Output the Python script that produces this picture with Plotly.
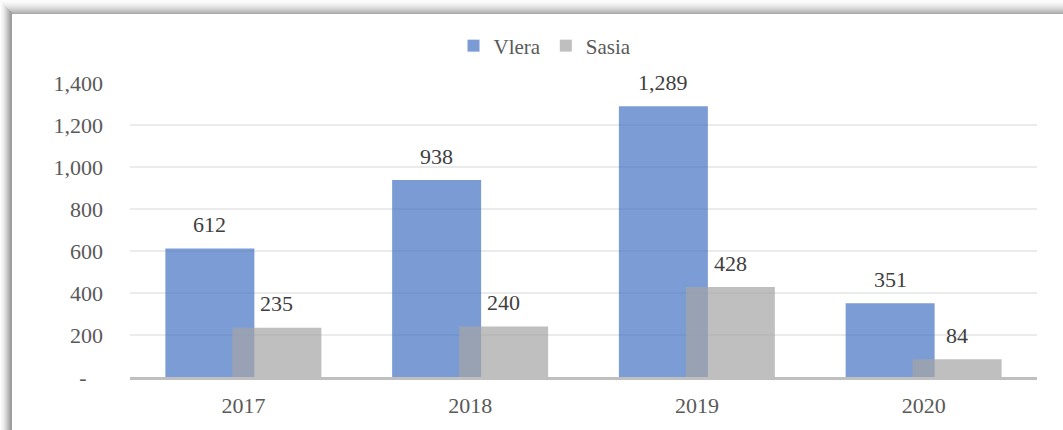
import plotly.graph_objects as go

years = ["2017", "2018", "2019", "2020"]
vlera = [612, 938, 1289, 351]
sasia = [235, 240, 428, 84]
series_names = ["Vlera", "Sasia"]
y_tick_vals = [0, 200, 400, 600, 800, 1000, 1200, 1400]
y_tick_text = ["-\u00a0\u00a0\u00a0", "200", "400", "600", "800", "1,000", "1,200", "1,400"]

W, H = 1063, 430
L, R, T, B = 130, 1037, 83, 377
FONT = "Liberation Serif"

def px_x(px):
    return (px - L) / (R - L)

def px_y(py):
    return (B - py) / (B - T)

bw = 0.3925
off = 0.1477

fig = go.Figure()
fig.add_trace(go.Bar(
    x=years, y=vlera, name=series_names[0],
    marker=dict(color="#4472C4", line=dict(width=0)), opacity=0.7,
    width=bw, offset=-off - bw / 2,
))
fig.add_trace(go.Bar(
    x=years, y=sasia, name=series_names[1],
    marker=dict(color="#A5A5A5", line=dict(width=0)), opacity=0.7,
    width=bw, offset=off - bw / 2,
))

annotations = []
for i, v in enumerate(vlera):
    annotations.append(dict(x=i - off, y=v, xref="x", yref="y", text=f"{v:,}", showarrow=False,
                            yshift=24, yanchor="middle",
                            font=dict(family=FONT, size=22, color="#404040")))
for i, v in enumerate(sasia):
    annotations.append(dict(x=i + off, y=v, xref="x", yref="y", text=f"{v:,}", showarrow=False,
                            yshift=24, yanchor="middle",
                            font=dict(family=FONT, size=22, color="#404040")))

shapes = []
# card shadow: left band
for i in range(13):
    lvl = int(252 - (i / 11.0) ** 1.5 * 105) if i < 12 else 255
    c = f"rgb({lvl},{lvl},{lvl})"
    shapes.append(dict(type="line", xref="paper", yref="paper",
                       x0=px_x(i + 0.5), x1=px_x(i + 0.5), y0=px_y(i), y1=px_y(H + 5),
                       line=dict(color=c, width=1.2), layer="below"))
# top band
for j in range(15):
    lvl = int(252 - (j / 13.0) ** 1.6 * 80) if j < 14 else 255
    c = f"rgb({lvl},{lvl},{lvl})"
    shapes.append(dict(type="line", xref="paper", yref="paper",
                       x0=px_x(min(j, 12)), x1=px_x(W + 5), y0=px_y(j + 0.5), y1=px_y(j + 0.5),
                       line=dict(color=c, width=1.2), layer="below"))

fig.update_layout(
    width=W, height=H,
    margin=dict(l=L, r=W - R, t=T, b=H - B, pad=0, autoexpand=False),
    paper_bgcolor="white", plot_bgcolor="white",
    barmode="overlay",
    showlegend=True,
    legend=dict(orientation="h", x=px_x(545), y=px_y(46), xanchor="center", yanchor="middle",
                font=dict(family=FONT, size=21, color="#595959"), itemwidth=30,
                traceorder="normal", bgcolor="rgba(0,0,0,0)"),
    xaxis=dict(type="category", range=[-0.5, 3.5], showgrid=False, showline=True,
               linecolor="#BFBFBF", linewidth=2.5, automargin=False,
               ticks="", tickfont=dict(family=FONT, size=22, color="#595959"),
               ticklabelstandoff=7, fixedrange=True),
    yaxis=dict(range=[0, 1400], tickvals=y_tick_vals, ticktext=y_tick_text, automargin=False,
               showgrid=True, gridcolor="#EBEBEB", gridwidth=1.5, zeroline=False,
               showline=False, ticks="", tickfont=dict(family=FONT, size=22, color="#595959"),
               ticklabelstandoff=26, fixedrange=True),
    annotations=annotations,
    shapes=shapes,
    font=dict(family=FONT),
)

fig.write_html(
    "out.html",
    config={"displayModeBar": False},
    post_script="document.body.style.margin='0';document.body.style.overflow='hidden';",
)
